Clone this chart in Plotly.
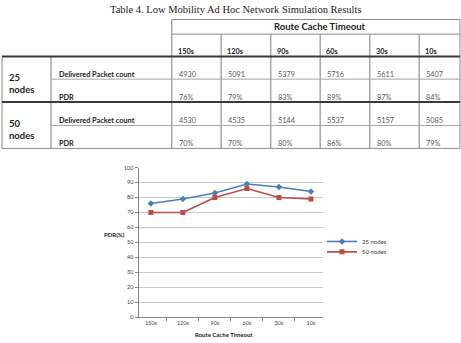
import plotly.graph_objects as go

W, H = 461, 343

# ---------------- data ----------------
categories = ["150s", "120s", "90s", "60s", "30s", "10s"]
series_names = ["25 nodes", "50 nodes"]
delivered_25 = [4930, 5091, 5379, 5716, 5611, 5407]
pdr_25 = [76, 79, 83, 89, 87, 84]
delivered_50 = [4530, 4535, 5144, 5537, 5157, 5085]
pdr_50 = [70, 70, 80, 86, 80, 79]
row_metrics = ["Delivered Packet count", "PDR"]
y_ticks = [0, 10, 20, 30, 40, 50, 60, 70, 80, 90, 100]

table_title = "Table 4. Low Mobility Ad Hoc Network Simulation Results"
group_header = "Route Cache Timeout"
x_title = "Route Cache Timeout"
y_title = "PDR(%)"

# ---------------- layout geometry (pixels) ----------------
def px(x):
    return x / W

def py(y):
    return 1 - y / H

col_edges = [171.7, 221.2, 270.7, 320.2, 369.7, 419.2, 460]
left_edge = 2
sub_edge = 51
head_top, head_mid, head_bot = 16.8, 31.7, 54.5
row_edges = [54.5, 77.5, 100.7, 124.7, 148]

shapes = []
annotations = []

def hline(y, x0, x1, color, width):
    shapes.append(dict(type="line", xref="paper", yref="paper",
                       x0=px(x0), x1=px(x1), y0=py(y), y1=py(y),
                       line=dict(color=color, width=width)))

def vline(x, y0, y1, color, width):
    shapes.append(dict(type="line", xref="paper", yref="paper",
                       x0=px(x), x1=px(x), y0=py(y0), y1=py(y1),
                       line=dict(color=color, width=width)))

def text(t, x, y, size, color="#222", bold=False, family="Lato, sans-serif",
         xanchor="left"):
    annotations.append(dict(text=f"<b>{t}</b>" if bold else t,
                            xref="paper", yref="paper", x=px(x), y=py(y),
                            xanchor=xanchor, yanchor="middle", showarrow=False,
                            align="left",
                            font=dict(size=size, color=color, family=family)))

GRAY = "#a6a6a6"
DARK = "#3a3a3a"

# header box
hline(head_top, col_edges[0], col_edges[-1], "#8c8c8c", 1)
hline(head_mid, col_edges[0], col_edges[-1], "#8c8c8c", 1)
vline(col_edges[0], head_top, row_edges[-1], GRAY, 1.5)
vline(col_edges[-1], head_top, row_edges[-1], "#8c8c8c", 1)
for xe in col_edges[1:-1]:
    vline(xe, head_mid, row_edges[-1], GRAY, 1.5)
# body
vline(left_edge, row_edges[0], row_edges[-1], "#8c8c8c", 1)
vline(sub_edge, row_edges[0], row_edges[-1], GRAY, 1.5)
hline(row_edges[0], left_edge, col_edges[-1], DARK, 2)
hline(row_edges[1], sub_edge, col_edges[-1], GRAY, 1)
hline(row_edges[2], left_edge, col_edges[-1], DARK, 2)
hline(row_edges[3], sub_edge, col_edges[-1], GRAY, 1)
hline(row_edges[4], left_edge, col_edges[-1], "#8c8c8c", 1)

# title + headers
text(table_title, 236, 7, 10.5, "#222", False, "Liberation Serif, serif", "center")
text(group_header, (col_edges[0] + col_edges[-1]) / 2 + 4, 23.5, 9.5, "#222", True,
     xanchor="center")
for i, c in enumerate(categories):
    text(c, col_edges[i] + 4, 49, 7.3, "#222", True)

# body rows
groups = [("25", [delivered_25, [f"{v}%" for v in pdr_25]]),
          ("50", [delivered_50, [f"{v}%" for v in pdr_50]])]
for g, (label, rows) in enumerate(groups):
    top = row_edges[2 * g]
    bot = row_edges[2 * g + 2]
    text(f"{label}<br>nodes", 7, (top + bot) / 2 + 4.7, 9.5, "#222", True)
    for r, vals in enumerate(rows):
        yc = row_edges[2 * g + r + 1] - 5
        text(row_metrics[r], sub_edge + 6, yc, 7.3, "#222", True)
        for i, v in enumerate(vals):
            text(str(v), col_edges[i] + 5, yc, 7.3, "#595959")

# axis titles of chart
text(y_title, 114.5, 236, 6, "#222", True, xanchor="center")
text(x_title, 224, 337.8, 6, "#222", True, xanchor="center")

# ---------------- chart ----------------
fig = go.Figure()
fig.add_trace(go.Scatter(x=categories, y=pdr_25, name=series_names[0],
                         mode="lines+markers", legend="legend",
                         line=dict(color="#4a7ebb", width=1.6),
                         marker=dict(symbol="diamond", size=5, color="#4a7ebb")))
fig.add_trace(go.Scatter(x=categories, y=pdr_50, name=series_names[1],
                         mode="lines+markers", legend="legend2",
                         line=dict(color="#be4b48", width=1.6),
                         marker=dict(symbol="square", size=5, color="#be4b48")))

axis_font = dict(size=5.5, color="#404040", family="Lato, sans-serif")
fig.update_layout(
    width=W, height=H,
    margin=dict(l=0, r=0, t=0, b=0),
    paper_bgcolor="white", plot_bgcolor="white",
    showlegend=True,
    xaxis=dict(domain=[px(138.5), px(323.3)], type="category",
               showgrid=False, showline=True, linecolor="#868686", linewidth=1,
               ticks="outside", tickson="boundaries", ticklen=3,
               tickcolor="#868686", tickfont=axis_font, fixedrange=True),
    yaxis=dict(domain=[py(320), py(167.5)], range=[0, 100], tickvals=y_ticks,
               showgrid=True, gridcolor="#c8c8c8", gridwidth=1,
               showline=True, linecolor="#868686", linewidth=1, zeroline=False,
               ticks="outside", ticklen=3, tickcolor="#868686",
               tickfont=axis_font, fixedrange=True),
    legend=dict(x=px(322), y=py(242.7), xanchor="left", yanchor="middle",
                bgcolor="rgba(0,0,0,0)", font=dict(size=6, color="#404040",
                family="Lato, sans-serif")),
    legend2=dict(x=px(322), y=py(253.3), xanchor="left", yanchor="middle",
                 bgcolor="rgba(0,0,0,0)", font=dict(size=6, color="#404040",
                 family="Lato, sans-serif")),
    shapes=shapes,
    annotations=annotations,
)

fig.write_html("out.html")
